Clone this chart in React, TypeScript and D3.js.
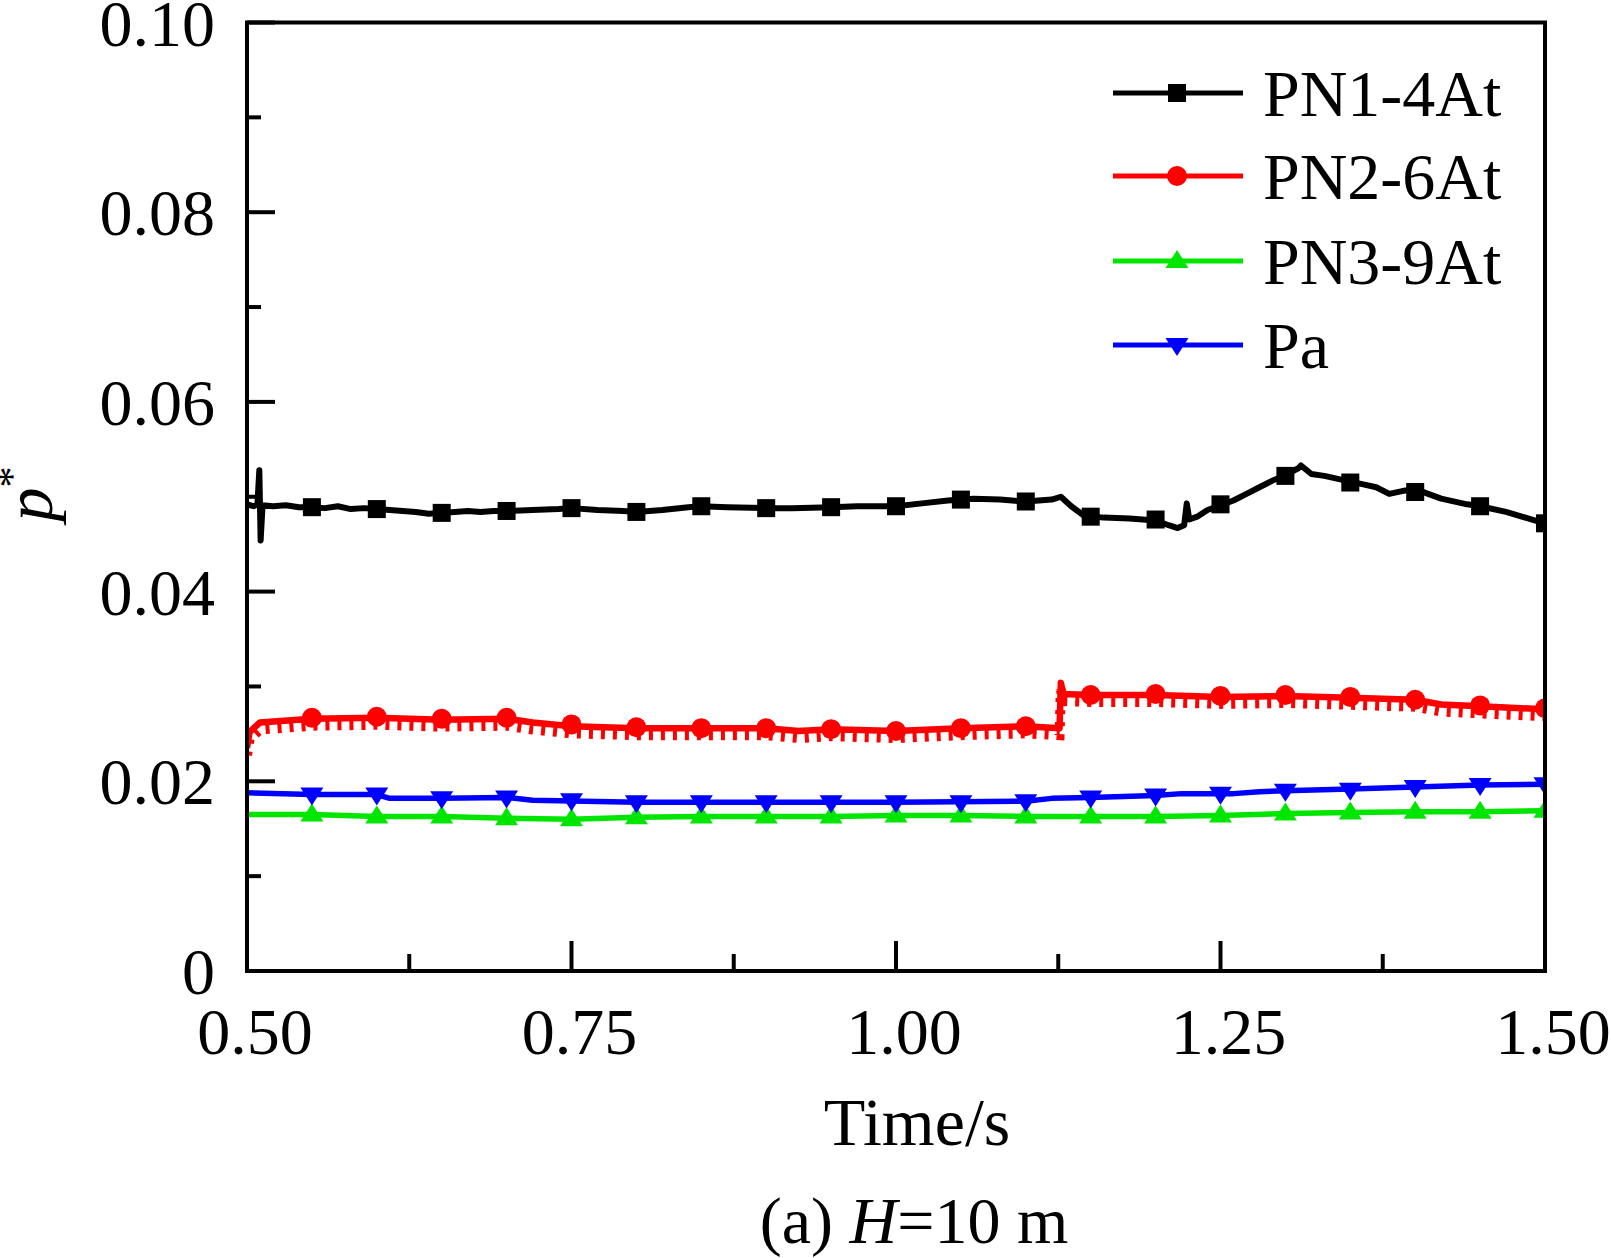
import * as d3 from 'd3';

const W = 1611;
const H = 1258;
const M = { left: 247, right: 1545, top: 22.5, bottom: 971 };

const FONT = '"Liberation Serif", "Times New Roman", serif';

// y ticks / x ticks
const yMajor = [0, 0.02, 0.04, 0.06, 0.08, 0.1];
const yLabels = ['0', '0.02', '0.04', '0.06', '0.08', '0.10'];
const yMinor = [0.01, 0.03, 0.05, 0.07, 0.09];
const xMajor = [0.5, 0.75, 1.0, 1.25, 1.5];
const xLabels = ['0.50', '0.75', '1.00', '1.25', '1.50'];
const xMinor = [0.625, 0.875, 1.125, 1.375];

// marker times (every 0.05 s)
const markerT = [0.55, 0.6, 0.65, 0.7, 0.75, 0.8, 0.85, 0.9, 0.95, 1.0, 1.05, 1.1, 1.15, 1.2, 1.25, 1.3, 1.35, 1.4, 1.45, 1.5];

// PN1-4At
const pn1T = [0.5, 0.505, 0.508, 0.5095, 0.5105, 0.512, 0.52, 0.53, 0.54, 0.55, 0.56, 0.57, 0.58, 0.59, 0.6, 0.61, 0.62, 0.63, 0.64, 0.65, 0.66, 0.67, 0.68, 0.69, 0.7, 0.72, 0.74, 0.75, 0.77, 0.79, 0.8, 0.82, 0.84, 0.85, 0.87, 0.9, 0.92, 0.95, 0.97, 1.0, 1.02, 1.04, 1.06, 1.08, 1.1, 1.12, 1.127, 1.135, 1.145, 1.16, 1.18, 1.2, 1.21, 1.217, 1.222, 1.224, 1.226, 1.232, 1.24, 1.25, 1.26, 1.27, 1.28, 1.29, 1.3, 1.31, 1.312, 1.32, 1.33, 1.35, 1.36, 1.37, 1.38, 1.39, 1.4, 1.41, 1.42, 1.44, 1.45, 1.47, 1.49, 1.5];
const pn1V = [0.0492, 0.049, 0.0492, 0.0528, 0.0454, 0.0491, 0.049, 0.0491, 0.0489, 0.0489, 0.0488, 0.049, 0.0487, 0.0488, 0.0487, 0.0486, 0.0485, 0.0484, 0.0482, 0.0483, 0.0484, 0.0485, 0.0484, 0.0485, 0.0485, 0.0486, 0.0487, 0.0488, 0.0486, 0.0485, 0.0484, 0.0486, 0.0489, 0.049, 0.0489, 0.0488, 0.0488, 0.0489, 0.049, 0.049, 0.0493, 0.0496, 0.0498, 0.0497, 0.0495, 0.0497, 0.05, 0.049, 0.048, 0.0478, 0.0477, 0.0475, 0.047, 0.0467, 0.047, 0.0493, 0.0476, 0.0479, 0.0486, 0.0491, 0.0496, 0.0503, 0.051, 0.0517, 0.0523, 0.053, 0.0533, 0.0524, 0.0522, 0.0516, 0.0513, 0.051, 0.0503, 0.0506, 0.0508, 0.0503, 0.0498, 0.0492, 0.049, 0.0484, 0.0476, 0.0472];
const pn1M = [0.0489, 0.0487, 0.0483, 0.0485, 0.0488, 0.0484, 0.049, 0.0488, 0.0489, 0.049, 0.0497, 0.0495, 0.0479, 0.0476, 0.0492, 0.0522, 0.0515, 0.0505, 0.049, 0.0472];

// PN2-6At
const pn2T = [0.5, 0.502, 0.51, 0.55, 0.6, 0.65, 0.7, 0.72, 0.75, 0.8, 0.85, 0.9, 0.925, 0.95, 1.0, 1.05, 1.1, 1.126, 1.127, 1.129, 1.15, 1.2, 1.25, 1.3, 1.35, 1.4, 1.42, 1.45, 1.5];
const pn2V = [0.0235, 0.0252, 0.0262, 0.0266, 0.0267, 0.0265, 0.0266, 0.0262, 0.0258, 0.0256, 0.0256, 0.0256, 0.0253, 0.0255, 0.0253, 0.0256, 0.0258, 0.0256, 0.0304, 0.0292, 0.0291, 0.0291, 0.0289, 0.029, 0.0288, 0.0286, 0.0281, 0.0279, 0.0276];
const pn2M = [0.0267, 0.0268, 0.0266, 0.0267, 0.026, 0.0257, 0.0256, 0.0256, 0.0255, 0.0253, 0.0256, 0.0258, 0.0291, 0.0292, 0.029, 0.0291, 0.0289, 0.0286, 0.028, 0.0277];

// PN3-9At
const pn3T = [0.5, 0.55, 0.6, 0.65, 0.7, 0.75, 0.8, 0.85, 0.9, 0.95, 1.0, 1.05, 1.1, 1.15, 1.2, 1.25, 1.3, 1.35, 1.4, 1.45, 1.5];
const pn3V = [0.0165, 0.0165, 0.0163, 0.0163, 0.0161, 0.016, 0.0162, 0.0163, 0.0163, 0.0163, 0.0164, 0.0164, 0.0163, 0.0163, 0.0163, 0.0164, 0.0166, 0.0167, 0.0168, 0.0168, 0.0169];
const pn3M = [0.0165, 0.0163, 0.0163, 0.0161, 0.016, 0.0162, 0.0163, 0.0163, 0.0163, 0.0164, 0.0164, 0.0163, 0.0163, 0.0163, 0.0164, 0.0166, 0.0167, 0.0168, 0.0168, 0.0169];

// Pa
const paT = [0.5, 0.55, 0.6, 0.61, 0.65, 0.7, 0.72, 0.8, 0.9, 1.0, 1.1, 1.12, 1.15, 1.2, 1.22, 1.26, 1.28, 1.3, 1.35, 1.4, 1.45, 1.5];
const paV = [0.0188, 0.0186, 0.0186, 0.0182, 0.0182, 0.0183, 0.018, 0.0178, 0.0178, 0.0178, 0.0179, 0.0182, 0.0183, 0.0185, 0.0187, 0.0187, 0.0189, 0.019, 0.0192, 0.0194, 0.0196, 0.0197];
const paM = [0.0186, 0.0186, 0.0182, 0.0183, 0.018, 0.0178, 0.0178, 0.0178, 0.0178, 0.0178, 0.0178, 0.0179, 0.0183, 0.0185, 0.0187, 0.019, 0.0191, 0.0194, 0.0196, 0.0197];

type Shape = 'square' | 'circle' | 'up' | 'down';

const series = [
  { name: 'PN1-4At', color: '#000000', t: pn1T, v: pn1V, m: pn1M, shape: 'square' as Shape, width: 6 },
  { name: 'PN2-6At', color: '#ff0000', t: pn2T, v: pn2V, m: pn2M, shape: 'circle' as Shape, width: 6.5 },
  { name: 'PN3-9At', color: '#00e600', t: pn3T, v: pn3V, m: pn3M, shape: 'up' as Shape, width: 5.5 },
  { name: 'Pa', color: '#0000ff', t: paT, v: paV, m: paM, shape: 'down' as Shape, width: 5.5 },
];

function Marker({ shape, x, y, color }: { shape: Shape; x: number; y: number; color: string }) {
  if (shape === 'square') return <rect x={x - 9} y={y - 9} width={18} height={18} fill={color} />;
  if (shape === 'circle') return <circle cx={x} cy={y} r={10} fill={color} />;
  if (shape === 'up') return <path d={`M${x},${y - 11}L${x + 11.5},${y + 7}L${x - 11.5},${y + 7}Z`} fill={color} />;
  return <path d={`M${x},${y + 11}L${x + 11.5},${y - 7}L${x - 11.5},${y - 7}Z`} fill={color} />;
}

export default function App() {
  const x = d3.scaleLinear().domain([0.5, 1.5]).range([M.left, M.right]);
  const y = d3.scaleLinear().domain([0, 0.1]).range([M.bottom, M.top]);
  const line = d3
    .line<[number, number]>()
    .x((d) => x(d[0]))
    .y((d) => y(d[1]));

  const legendRows = [93, 176, 261, 345];

  return (
    <svg
      width={W}
      height={H}
      style={{ position: 'absolute', left: 0, top: 0, background: '#fff' }}
      fontFamily={FONT}
    >
      <defs>
        <clipPath id="plot">
          <rect x={M.left} y={M.top} width={M.right - M.left} height={M.bottom - M.top} />
        </clipPath>
      </defs>

      <g clipPath="url(#plot)">
        {series.map((s) => {
          const pts = s.t.map((t, i) => [t, s.v[i]] as [number, number]);
          return (
            <g key={s.name}>
              <path d={line(pts) ?? ''} fill="none" stroke={s.color} strokeWidth={s.width} strokeLinejoin="round" />
              {s.shape === 'circle' && (
                <path
                  d={line(pts) ?? ''}
                  transform="translate(0,7)"
                  fill="none"
                  stroke={s.color}
                  strokeWidth={10}
                  strokeDasharray="4 8"
                />
              )}
              {markerT.map((t, i) => (
                <Marker key={t} shape={s.shape} x={x(t)} y={y(s.m[i])} color={s.color} />
              ))}
            </g>
          );
        })}
      </g>

      {/* frame */}
      <rect
        x={M.left}
        y={M.top}
        width={M.right - M.left}
        height={M.bottom - M.top}
        fill="none"
        stroke="#000"
        strokeWidth={4}
      />

      {/* y ticks */}
      {yMajor.map((v, i) => (
        <g key={v}>
          <line x1={M.left} x2={M.left + 28} y1={y(v)} y2={y(v)} stroke="#000" strokeWidth={4} />
          <text x={215} y={y(v) + 23} textAnchor="end" fontSize={66}>
            {yLabels[i]}
          </text>
        </g>
      ))}
      {yMinor.map((v) => (
        <line key={v} x1={M.left} x2={M.left + 14} y1={y(v)} y2={y(v)} stroke="#000" strokeWidth={4} />
      ))}

      {/* x ticks */}
      {xMajor.map((v, i) => (
        <g key={v}>
          <line x1={x(v)} x2={x(v)} y1={M.bottom} y2={M.bottom - 30} stroke="#000" strokeWidth={4} />
          <text x={x(v) + 8} y={1054} textAnchor="middle" fontSize={66}>
            {xLabels[i]}
          </text>
        </g>
      ))}
      {xMinor.map((v) => (
        <line key={v} x1={x(v)} x2={x(v)} y1={M.bottom} y2={M.bottom - 17} stroke="#000" strokeWidth={4} />
      ))}

      {/* axis titles */}
      <text x={917} y={1145} textAnchor="middle" fontSize={68}>
        Time/s
      </text>
      <text x={914} y={1243} textAnchor="middle" fontSize={66}>
        (a) <tspan fontStyle="italic">H</tspan>=10 m
      </text>
      <text transform="translate(52,494) rotate(-90)" textAnchor="middle" fontSize={68}>
        <tspan fontStyle="italic">p</tspan>
        <tspan fontSize={42} dy={-26}>*</tspan>
      </text>

      {/* legend */}
      {series.map((s, i) => (
        <g key={s.name}>
          <line x1={1113} x2={1243} y1={legendRows[i]} y2={legendRows[i]} stroke={s.color} strokeWidth={5} />
          <Marker shape={s.shape} x={1177} y={legendRows[i]} color={s.color} />
          <text x={1263} y={legendRows[i] + 23} fontSize={66}>
            {s.name}
          </text>
        </g>
      ))}
    </svg>
  );
}
